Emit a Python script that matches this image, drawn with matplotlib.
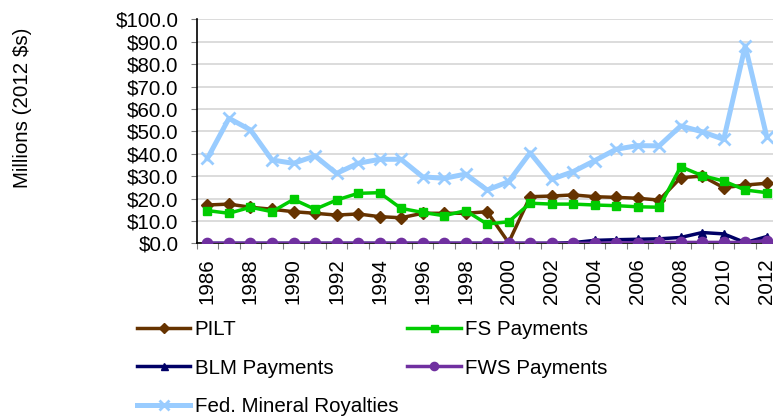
import matplotlib
matplotlib.use("Agg")
import matplotlib.pyplot as plt
import numpy as np

plt.rcParams['font.family'] = ['Liberation Sans', 'DejaVu Sans']

years = list(range(1986, 2013))
pilt = [17.1, 17.5, 16.1, 15.2, 14.1, 13.4, 12.6, 13.1, 11.9, 11.4, 13.4, 13.4, 13.4,
        14.1, 0.3, 20.8, 21.1, 21.6, 20.8, 20.5, 20.1, 19.3, 29.3, 30.0, 24.8, 26.0, 26.8]
fs = [14.6, 13.4, 16.1, 14.1, 19.6, 15.2, 19.3, 22.3, 22.6, 15.6, 13.8, 12.3, 14.6,
      8.6, 9.6, 17.9, 17.5, 17.5, 17.1, 16.8, 16.3, 16.1, 34.2, 30.2, 27.8, 23.8, 22.6]
blm = [0, 0, 0, 0, 0, 0, 0, 0, 0, 0, 0, 0, 0,
       0, 0, 0, 0, 0.3, 1.3, 1.6, 1.8, 2.0, 2.6, 4.8, 4.2, 0.3, 3.0]
fws = [0, 0, 0, 0, 0, 0, 0, 0, 0, 0, 0, 0, 0,
       0, 0, 0, 0, 0, 0, 0.2, 0.3, 0.4, 0.4, 0.4, 0.4, 0.4, 1.2]
fml = [37.9, 55.8, 50.6, 37.2, 35.7, 39.0, 31.2, 35.7, 37.5, 37.5, 29.7, 29.0, 30.9,
       23.8, 27.5, 40.4, 28.6, 32.0, 36.9, 42.0, 43.6, 43.5, 52.4, 49.8, 46.4, 88.1, 47.6]
yticks = [0, 10, 20, 30, 40, 50, 60, 70, 80, 90, 100]

W, H = 773, 417
fig = plt.figure(figsize=(W / 100, H / 100), dpi=100)
left, right, y0, y100 = 196.7, 777.5, 243.3, 19.3
ax = fig.add_axes([left / W, 1 - y0 / H, (right - left) / W, (y0 - y100) / H])

x = np.arange(len(years))
fsz = 14.8
h1, = ax.plot(x, pilt, color='#663300', lw=2.5, marker='D', ms=6.3, label='PILT', zorder=3)
h2, = ax.plot(x, fs, color='#00CC00', lw=2.5, marker='s', ms=6.3, label='FS Payments', zorder=4)
h3, = ax.plot(x, blm, color='#000066', lw=2.5, marker='^', ms=6.3, label='BLM Payments', zorder=5)
h4, = ax.plot(x, fws, color='#7030A0', lw=2.5, marker='o', ms=7.4, label='FWS Payments', zorder=6)
h5, = ax.plot(x, fml, color='#99CCFF', lw=3.6, marker='x', ms=8.5, mew=2.0,
              label='Fed. Mineral Royalties', zorder=7)

ax.set_xlim(-0.5, len(years) - 0.5)
ax.set_ylim(0, 100)
ax.set_yticks(yticks)
ax.set_yticklabels([f"${v:.1f}" for v in yticks], fontsize=fsz)
ax.yaxis.grid(True, color='#D9D9D9', lw=1.3, zorder=0)
ax.set_axisbelow(True)

ax.set_xticks(x[::2])
ax.set_xticklabels([str(y) for y in years[::2]], rotation=90, fontsize=fsz)
ax.set_xticks(np.arange(-0.5, len(years)), minor=True)
ax.tick_params(axis='x', which='major', length=0, pad=10.5)
ax.tick_params(axis='x', which='minor', length=4.5, width=0.8, color='#808080')
ax.tick_params(axis='y', length=4.5, width=0.8, color='#808080', pad=8.5)

for s in ['top', 'right']:
    ax.spines[s].set_visible(False)
ax.spines['left'].set_color('black')
ax.spines['bottom'].set_color('black')
ax.spines['left'].set_linewidth(1.2)
ax.spines['bottom'].set_linewidth(1.2)

fig.text(23 / W, 1 - 108 / H, 'Millions (2012 $s)', rotation=90, ha='center', va='center', fontsize=fsz)

fig.legend([h1, h3, h5, h2, h4],
           ['PILT', 'BLM Payments', 'Fed. Mineral Royalties', 'FS Payments', 'FWS Payments'],
           ncol=2, loc='upper left', bbox_to_anchor=(137 / W, 1 - 320 / H),
           frameon=False, fontsize=fsz, borderpad=0, borderaxespad=0,
           handlelength=2.6, handletextpad=0.2, columnspacing=0.45, labelspacing=0.95,
           markerscale=0.8)

fig.savefig('out.png', dpi=100)
